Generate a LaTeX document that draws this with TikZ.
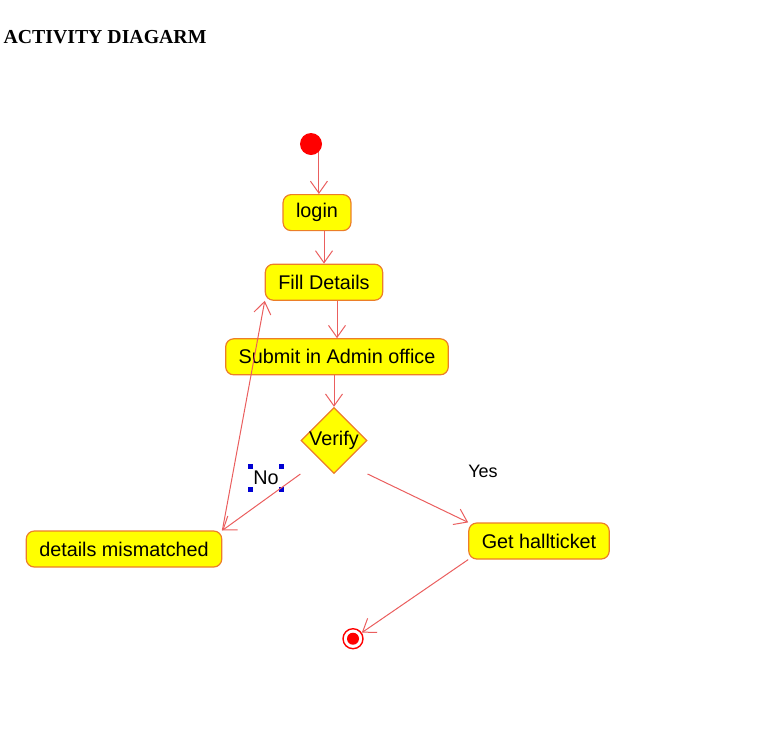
\documentclass[tikz,border=0pt]{standalone}
\usepackage{fontspec}
\setmainfont{Liberation Sans}
\newfontfamily\titlefont{Liberation Serif}
\usetikzlibrary{positioning,shapes.geometric,arrows.meta}
\definecolor{actfill}{RGB}{255,255,0}
\definecolor{actdraw}{RGB}{236,126,40}
\definecolor{flow}{RGB}{234,94,94}
\definecolor{handle}{RGB}{0,0,210}
\begin{document}
\begin{tikzpicture}[x=1pt,y=-1pt,flowline/.style={draw=flow,line width=1pt,-{Straight Barb[length=12pt,width=17pt,line width=1pt]}}]
    \tikzstyle{act} = [rectangle, rounded corners=8pt, draw=actdraw, fill=actfill, line width=1.2pt, minimum height=36pt, inner xsep=13pt, inner ysep=0pt, font=\fontsize{19.8}{23}\selectfont]
    \tikzstyle{decision} = [diamond, aspect=1, draw=actdraw, fill=actfill, line width=1.2pt, inner sep=-1pt, minimum width=66pt, minimum height=66pt, font=\fontsize{19.8}{23}\selectfont]
    \tikzstyle{initial} = [circle, fill=red, inner sep=0pt, minimum size=22pt]
    \tikzstyle{final} = [circle, draw=red, fill=white, line width=1.4pt, inner sep=0pt, minimum size=20pt, path picture={\fill[red] (path picture bounding box.center) circle (6pt);}]
    \useasboundingbox (0,0) rectangle (759,740);
        \node[anchor=base west,font=\titlefont\bfseries\fontsize{19.8}{23}\selectfont] (title) at (0,43) {ACTIVITY DIAGARM};
        % flow
        \node[initial] (start) at (311,144) {};
        \node[act,below=50pt,xshift=6pt] (login) at (start) {login};
        \node[act,below=51pt,xshift=7pt] (fill) at (login) {Fill Details};
        \node[act,below=56pt,xshift=13pt] (submit) at (fill) {Submit in Admin office};
        \node[decision,below=50pt,xshift=-3pt] (verify) at (submit) {Verify};
        % branches
        \node[act,below=90pt,xshift=-210pt] (details) at (verify) {details mismatched};
        \node[act,below=82pt,xshift=205pt] (get) at (verify) {Get hallticket};
        \node[final,below=87pt,xshift=-186pt] (end) at (get) {};
        % guards
        \node[minimum width=31pt,minimum height=23pt,inner sep=0pt,font=\fontsize{19.8}{23}\selectfont] (no) at (266,478) {No};
        \foreach \c in {north west,north east,south west,south east}
            \fill[handle] ([xshift=-2.5pt,yshift=-2.5pt]no.\c) rectangle ++(5pt,5pt);
        \node[font=\fontsize{18}{21}\selectfont] (yes) at (483,471) {Yes};
        % connectors
        \draw[flowline] (start.-45) -- (start.-45 |- login.north);
        \draw[flowline] (fill.north |- login.south) -- (fill.north);
        \draw[flowline] (submit.north |- fill.south) -- (submit.north);
        \draw[flowline] (verify.north |- submit.south) -- (verify.north);
        \draw[flowline] (verify.west |- verify.south) -- (details.north east);
        \draw[flowline] (details.north east) -- (fill.south west);
        \draw[flowline] (verify.east |- verify.south) -- (get.north west);
        \draw[flowline] (get.south west) -- (end);
\end{tikzpicture}
\end{document}
